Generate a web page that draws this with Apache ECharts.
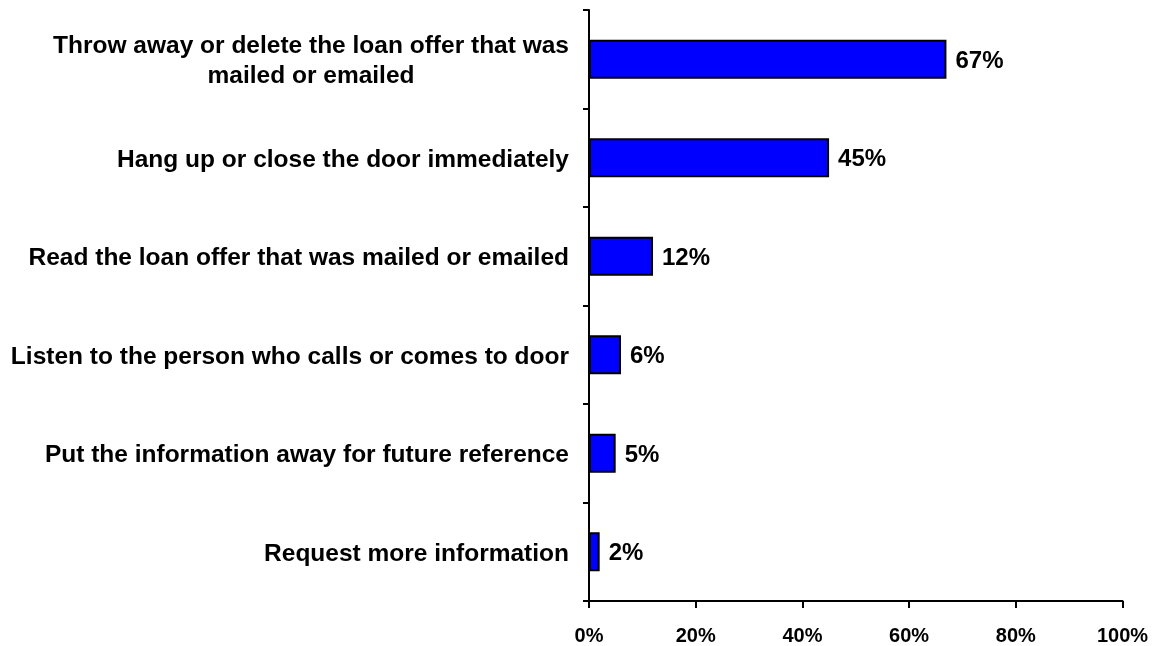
<!DOCTYPE html>
<html>
<head>
<meta charset="utf-8">
<script src="https://cdn.jsdelivr.net/npm/echarts@6/dist/echarts.min.js"></script>
<style>
  html, body { margin: 0; padding: 0; background: #fff; }
  #chart { width: 1156px; height: 646px; }
</style>
</head>
<body>
<div id="chart"></div>
<script>
// Responses, top to bottom
const categories = [
  'Throw away or delete the loan offer that was\nmailed or emailed',
  'Hang up or close the door immediately',
  'Read the loan offer that was mailed or emailed',
  'Listen to the person who calls or comes to door',
  'Put the information away for future reference',
  'Request more information'
];
// Share of respondents, percent
const values = [67, 45, 12, 6, 5, 2];
// Percent scale ticks
const xTicks = [0, 20, 40, 60, 80, 100];

const FONT = '"Liberation Sans", Arial, Helvetica, sans-serif';
const CAT_SIZE = 24.5;

// Width of the widest line in a multi-line category, so its lines can be centred
function lineWidth(text, size) {
  const ctx = document.createElement('canvas').getContext('2d');
  ctx.font = 'bold ' + size + 'px ' + FONT;
  return ctx.measureText(text).width;
}
let blockWidth = 0;
categories.forEach(c => {
  const parts = c.split('\n');
  if (parts.length > 1) parts.forEach(p => { blockWidth = Math.max(blockWidth, lineWidth(p, CAT_SIZE)); });
});

const chart = echarts.init(document.getElementById('chart'), null, { renderer: 'canvas' });

chart.setOption({
  animation: false,
  backgroundColor: '#ffffff',
  grid: { left: 589, right: 33.5, top: 10, bottom: 45, containLabel: false },
  xAxis: {
    type: 'value',
    min: xTicks[0],
    max: xTicks[xTicks.length - 1],
    interval: xTicks[1] - xTicks[0],
    axisLine: { show: true, lineStyle: { color: '#000', width: 2 } },
    axisTick: { show: true, inside: false, length: 7, lineStyle: { color: '#000', width: 2 } },
    splitLine: { show: false },
    axisLabel: {
      formatter: '{value}%',
      color: '#000',
      fontFamily: FONT,
      fontWeight: 'bold',
      fontSize: 20,
      margin: 25
    }
  },
  yAxis: {
    type: 'category',
    data: categories,
    inverse: true,
    axisLine: { show: true, lineStyle: { color: '#000', width: 2 } },
    axisTick: { show: true, inside: false, length: 6, alignWithLabel: false, lineStyle: { color: '#000', width: 2 } },
    splitLine: { show: false },
    axisLabel: {
      color: '#000',
      fontFamily: FONT,
      fontWeight: 'bold',
      fontSize: CAT_SIZE,
      lineHeight: 29.5,
      margin: 20,
      padding: [4, 0, 0, 0],
      formatter: function (v) {
        const parts = v.split('\n');
        if (parts.length < 2) return v;
        return parts.map(p => '{c|' + p + '}').join('\n');
      },
      rich: {
        c: {
          width: blockWidth,
          align: 'center',
          color: '#000',
          fontFamily: FONT,
          fontWeight: 'bold',
          fontSize: CAT_SIZE,
          lineHeight: 30
        }
      }
    }
  },
  series: [{
    type: 'bar',
    data: values,
    barWidth: 39,
    itemStyle: { color: '#0000ff', borderColor: '#000', borderWidth: 2 },
    label: {
      show: true,
      position: 'right',
      distance: 9,
      offset: [0, 2],
      formatter: '{c}%',
      color: '#000',
      fontFamily: FONT,
      fontWeight: 'bold',
      fontSize: 24
    }
  }]
});
</script>
</body>
</html>
